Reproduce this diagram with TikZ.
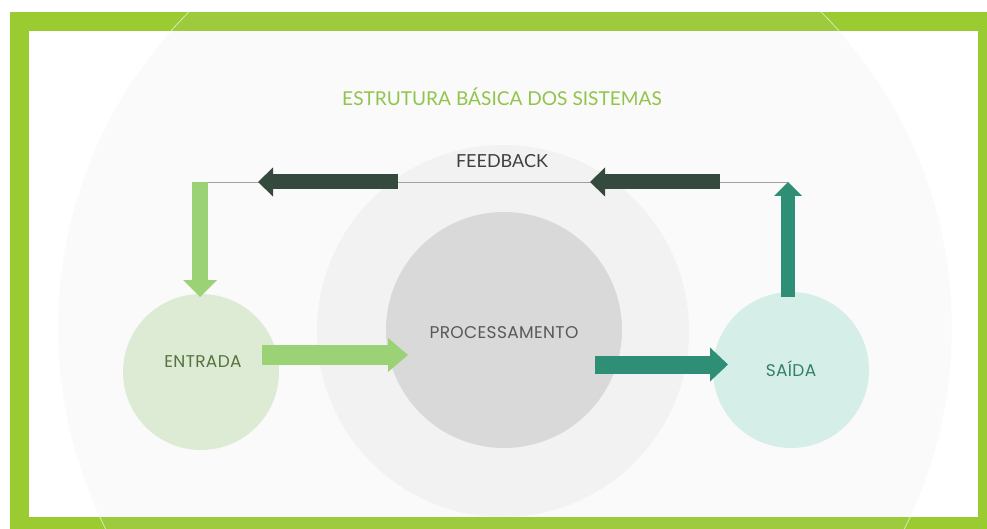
\documentclass[tikz,border=0pt]{standalone}
\usepackage{fontspec}
\setmainfont{Lato}
\newfontfamily\labelfont[LetterSpace=2]{Poppins}
\usetikzlibrary{arrows.meta}
\definecolor{frameg}{RGB}{154,204,50}
\definecolor{bigc}{RGB}{200,200,200}
\definecolor{midc}{RGB}{242,242,242}
\definecolor{procc}{RGB}{217,217,217}
\definecolor{entc}{RGB}{221,235,213}
\definecolor{saic}{RGB}{214,238,232}
\definecolor{titleg}{RGB}{146,196,76}
\definecolor{darkarr}{RGB}{52,74,60}
\definecolor{greenarr}{RGB}{156,210,118}
\definecolor{tealarr}{RGB}{47,143,118}
\definecolor{enttxt}{RGB}{84,115,62}
\definecolor{saitxt}{RGB}{50,128,108}
\definecolor{proctxt}{RGB}{89,89,89}
\definecolor{fbtxt}{RGB}{64,64,64}
\definecolor{fbline}{RGB}{160,160,160}
\tikzset{
  disc/.style={circle, inner sep=0pt, draw=none},
  lbl/.style={inner sep=0pt, anchor=center},
  circlbl/.style={lbl, font=\labelfont\fontsize{17}{20}\selectfont},
  blockarr/.style n args={4}{draw=#1, line width=#2, line cap=butt,
     -{Triangle[length=#3, width=#4, line width=0pt, fill=#1]}},
}
\begin{document}
\begin{tikzpicture}[x=1pt,y=-1pt]
\useasboundingbox (0,0) rectangle (987,529);
% frame and background circle
\begin{scope}
  \clip (10,12) rectangle (987,529);
  \fill[frameg] (10,12) rectangle (987,529);
  \fill[white] (29,31) rectangle (978,517);
  \fill[bigc, opacity=0.08] (505,328) circle[radius=447pt];
  \draw[white, opacity=0.6, line width=0.8pt] (505,328) circle[radius=447pt];
\end{scope}
% circles
\node[disc, fill=midc, minimum size=372pt] (mid) at (503,331) {};
\node[disc, fill=procc, minimum size=236pt] (proc) at (504,330) {};
\node[disc, fill=entc, minimum size=156pt] (ent) at (201,372) {};
\node[disc, fill=saic, minimum size=156pt] (sai) at (791,370) {};
% texts
\node[lbl, text=titleg, font=\fontsize{19.1}{21}\selectfont] (title) at (502,97) {ESTRUTURA BÁSICA DOS SISTEMAS};
\node[lbl, text=fbtxt, font=\fontsize{18}{20}\selectfont] (fb) at (502,161) {FEEDBACK};
\node[circlbl, text=proctxt] (proctext) at (504,333) {PROCESSAMENTO};
\node[circlbl, text=enttxt] (enttext) at (203,362) {ENTRADA};
\node[circlbl, text=saitxt] (saitext) at (791,369) {SAÍDA};
% feedback line
\coordinate (fbL) at (200,182);
\coordinate (fbR) at (788,182);
\draw[fbline, line width=0.9pt] (fbL) -- (fbR);
% feedback arrows
\coordinate (d1s) at (398,182);
\coordinate (d1e) at (258,182);
\coordinate (d2s) at (720,182);
\coordinate (d2e) at (590,182);
\draw[blockarr={darkarr}{15pt}{15pt}{29pt}] (d1s) -- (d1e);
\draw[blockarr={darkarr}{15pt}{15pt}{29pt}] (d2s) -- (d2e);
% down arrow into ENTRADA
\coordinate (downEnd) at (200,297);
\draw[blockarr={greenarr}{16pt}{17pt}{34pt}] (fbL) -- (downEnd);
% up arrow from SAIDA
\coordinate (upStart) at (788,297);
\draw[blockarr={tealarr}{14pt}{14pt}{28pt}] (upStart) -- (fbR);
% ENTRADA -> PROCESSAMENTO
\coordinate (e1s) at (262,355);
\coordinate (e1e) at (408,355);
\draw[blockarr={greenarr}{20pt}{20pt}{34pt}] (e1s) -- (e1e);
% PROCESSAMENTO -> SAIDA
\coordinate (s1s) at (595,364.5);
\coordinate (s1e) at (728,364.5);
\draw[blockarr={tealarr}{18pt}{18pt}{34pt}] (s1s) -- (s1e);
\end{tikzpicture}
\end{document}
